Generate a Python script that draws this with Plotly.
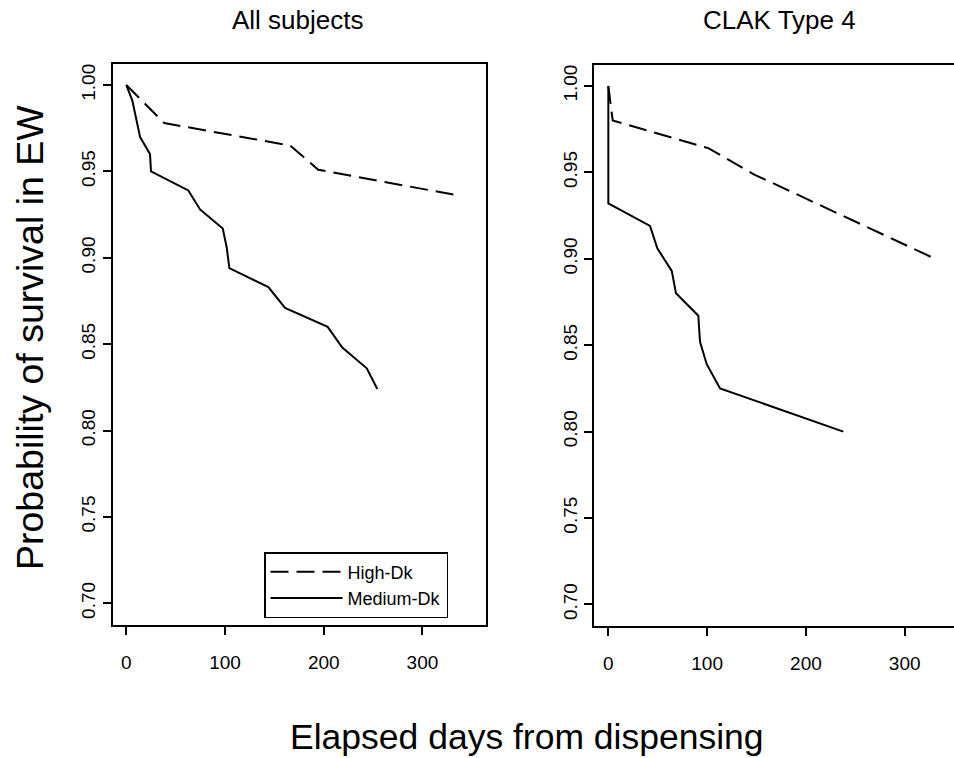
import plotly.graph_objects as go

# Kaplan-Meier style survival estimates (days since dispensing, survival probability)
all_high_days = [0, 38.5, 165.9, 194.5, 337]
all_high_surv = [1.000, 0.978, 0.965, 0.951, 0.936]

all_med_days = [0, 6.1, 13.9, 24, 25, 62.8, 74.7, 97.7, 101.7, 104.4,
                143.9, 160.8, 204, 218.8, 243.6, 254.3]
all_med_surv = [1.000, 0.991, 0.970, 0.960, 0.950, 0.939, 0.928, 0.917, 0.906, 0.894,
                0.883, 0.871, 0.860, 0.848, 0.836, 0.824]

clak_high_days = [0, 4.4, 101.2, 146.8, 330.7]
clak_high_surv = [1.000, 0.980, 0.964, 0.949, 0.900]

clak_med_days = [0, 0, 42.2, 49.6, 64.2, 68.5, 91.1, 92.8, 99.6, 113.1, 237.9]
clak_med_surv = [1.000, 0.932, 0.919, 0.906, 0.893, 0.880, 0.867, 0.852, 0.839, 0.825, 0.800]

panel_titles = ["All subjects", "CLAK Type 4"]
series_names = ["High-Dk", "Medium-Dk"]
x_ticks = [0, 100, 200, 300]
y_ticks = [0.70, 0.75, 0.80, 0.85, 0.90, 0.95, 1.00]

FONT = "Liberation Sans, Arial, sans-serif"
W, H = 954, 758
DASH = "18px,8px"
LW = 2

fig = go.Figure()

fig.add_trace(go.Scatter(x=all_high_days, y=all_high_surv, mode="lines",
                         name=series_names[0], xaxis="x", yaxis="y",
                         line=dict(color="black", width=LW, dash=DASH)))
fig.add_trace(go.Scatter(x=all_med_days, y=all_med_surv, mode="lines",
                         name=series_names[1], xaxis="x", yaxis="y",
                         line=dict(color="black", width=LW)))
fig.add_trace(go.Scatter(x=clak_high_days, y=clak_high_surv, mode="lines",
                         name=series_names[0], xaxis="x2", yaxis="y2", showlegend=False,
                         line=dict(color="black", width=LW, dash=DASH)))
fig.add_trace(go.Scatter(x=clak_med_days, y=clak_med_surv, mode="lines",
                         name=series_names[1], xaxis="x2", yaxis="y2", showlegend=False,
                         line=dict(color="black", width=LW)))


def px_x(p):
    return p / W


def px_y(p):
    return 1 - p / H


tickfont = dict(family=FONT, size=19, color="black")

common_x = dict(tickmode="array", tickvals=x_ticks, ticks="outside", ticklen=8,
                tickwidth=1.5, tickcolor="black", showline=True, linecolor="black",
                linewidth=2, showgrid=False, zeroline=False, tickfont=tickfont,
                ticklabelstandoff=11)
common_y = dict(tickmode="array", tickvals=y_ticks, tickformat=".2f", ticks="outside",
                ticklen=8, tickwidth=1.5, tickcolor="black", showline=True,
                linecolor="black", linewidth=2, showgrid=False, zeroline=False,
                tickfont=tickfont, tickangle=-90)

fig.update_layout(
    width=W, height=H,
    margin=dict(l=0, r=0, t=0, b=0),
    paper_bgcolor="white", plot_bgcolor="white",
    font=dict(family=FONT, color="black"),
    xaxis=dict(domain=[px_x(112.7), px_x(486)], range=[-13.8, 364.4],
               anchor="y", mirror=True, **common_x),
    yaxis=dict(domain=[px_y(625), px_y(64)], range=[0.6874, 1.0122],
               anchor="x", mirror=True, **common_y),
    xaxis2=dict(domain=[px_x(594.3), 1.0], range=[-14.2, 349.9],
                anchor="y2", mirror=True, **common_x),
    yaxis2=dict(domain=[px_y(625.7), px_y(65)], range=[0.6877, 1.0121],
                anchor="x2", **common_y),
    showlegend=True,
    legend=dict(x=px_x(264), y=px_y(552), xanchor="left", yanchor="top",
                bordercolor="black", borderwidth=1.5, bgcolor="white",
                font=dict(family=FONT, size=18, color="black"),
                tracegroupgap=0, itemwidth=72),
)

annotations = [
    dict(text=panel_titles[0], x=px_x(298), y=px_y(20)),
    dict(text=panel_titles[1], x=px_x(779), y=px_y(20)),
]
for a in annotations:
    fig.add_annotation(xref="paper", yref="paper", showarrow=False,
                       xanchor="center", yanchor="middle",
                       font=dict(family=FONT, size=26, color="black"), **a)

fig.add_annotation(text="Elapsed days from dispensing", xref="paper", yref="paper",
                   x=px_x(527), y=px_y(737), showarrow=False,
                   xanchor="center", yanchor="middle",
                   font=dict(family=FONT, size=35.5, color="black"))
fig.add_annotation(text="Probability of survival in EW", xref="paper", yref="paper",
                   x=px_x(30), y=px_y(338), showarrow=False, textangle=-90,
                   xanchor="center", yanchor="middle",
                   font=dict(family=FONT, size=37.5, color="black"))

fig.write_html("out.html")
